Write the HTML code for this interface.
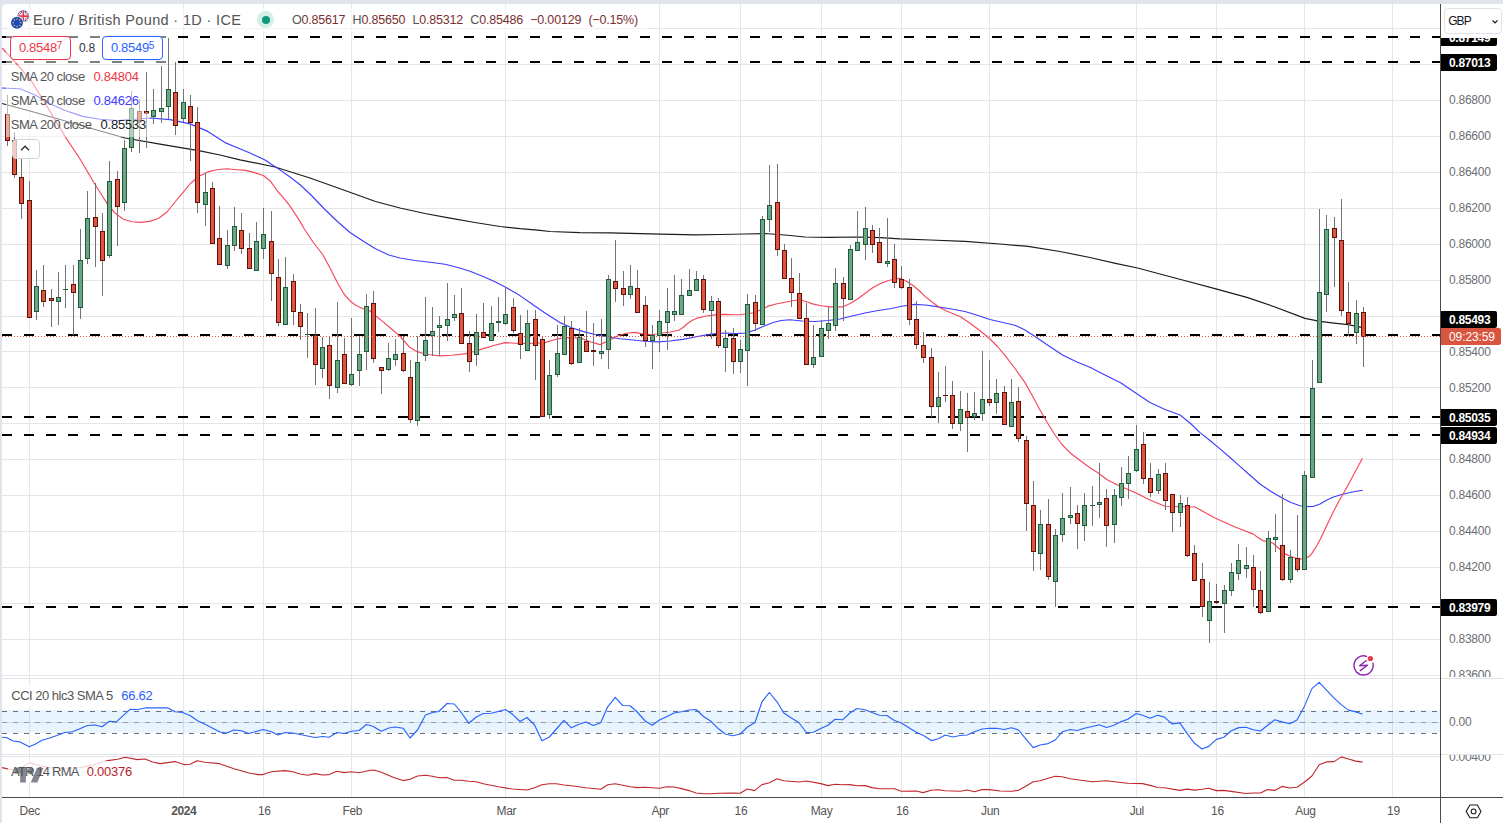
<!DOCTYPE html>
<html><head><meta charset="utf-8"><title>EURGBP chart</title>
<style>
html,body{margin:0;padding:0;background:#fff;}
body{width:1503px;height:823px;position:relative;overflow:hidden;font-family:"Liberation Sans",sans-serif;color:#555;}
.cv{position:absolute;left:0;top:0;}
.topbar{position:absolute;left:0;top:0;width:1503px;height:4px;background:#e0e3eb;}
.leftbar{position:absolute;left:0;top:0;width:2px;height:823px;background:#e0e3eb;}
.t{position:absolute;white-space:nowrap;line-height:1;}
.pl{position:absolute;left:1449px;font-size:12px;line-height:14px;height:14px;color:#6c6e75;letter-spacing:-0.25px;white-space:nowrap;}
.bl{position:absolute;left:1441px;width:56px;height:17px;background:#000;color:#fff;font-weight:bold;font-size:12px;line-height:18.6px;overflow:hidden;border-radius:0 2px 2px 0;box-sizing:border-box;padding-left:8px;letter-spacing:-0.3px;white-space:nowrap;}
.tl{position:absolute;top:804px;font-size:12px;line-height:14px;color:#555;letter-spacing:-0.4px;transform:translateX(-50%);white-space:nowrap;}
.lg{position:absolute;background:rgba(255,255,255,0.5);white-space:nowrap;}
.box{position:absolute;top:36px;height:24px;width:61px;box-sizing:border-box;border:1px solid;border-radius:4px;background:#fff;font-size:13px;line-height:22px;text-align:center;letter-spacing:-0.3px;}
.box sup{font-size:10px;vertical-align:baseline;position:relative;top:-3px;}
</style></head><body>
<svg class="cv" width="1503" height="823" viewBox="0 0 1503 823">
<g shape-rendering="crispEdges" fill="#e6e6e6">
<rect x="29" y="4" width="1" height="793"/>
<rect x="183" y="4" width="1" height="793"/>
<rect x="263" y="4" width="1" height="793"/>
<rect x="351" y="4" width="1" height="793"/>
<rect x="505" y="4" width="1" height="793"/>
<rect x="659" y="4" width="1" height="793"/>
<rect x="740" y="4" width="1" height="793"/>
<rect x="821" y="4" width="1" height="793"/>
<rect x="901" y="4" width="1" height="793"/>
<rect x="989" y="4" width="1" height="793"/>
<rect x="1136" y="4" width="1" height="793"/>
<rect x="1216" y="4" width="1" height="793"/>
<rect x="1304" y="4" width="1" height="793"/>
<rect x="1392" y="4" width="1" height="793"/>
<rect x="2" y="28" width="1438" height="1"/>
<rect x="2" y="64" width="1438" height="1"/>
<rect x="2" y="100" width="1438" height="1"/>
<rect x="2" y="136" width="1438" height="1"/>
<rect x="2" y="172" width="1438" height="1"/>
<rect x="2" y="208" width="1438" height="1"/>
<rect x="2" y="244" width="1438" height="1"/>
<rect x="2" y="280" width="1438" height="1"/>
<rect x="2" y="316" width="1438" height="1"/>
<rect x="2" y="351" width="1438" height="1"/>
<rect x="2" y="387" width="1438" height="1"/>
<rect x="2" y="423" width="1438" height="1"/>
<rect x="2" y="459" width="1438" height="1"/>
<rect x="2" y="495" width="1438" height="1"/>
<rect x="2" y="531" width="1438" height="1"/>
<rect x="2" y="567" width="1438" height="1"/>
<rect x="2" y="603" width="1438" height="1"/>
<rect x="2" y="639" width="1438" height="1"/>
<rect x="2" y="675" width="1438" height="1"/>
<rect x="2" y="756" width="1438" height="1"/><rect x="2" y="722" width="1438" height="1"/>
</g>
<rect x="2" y="710" width="1438" height="23" fill="rgba(33,150,243,0.1)" shape-rendering="crispEdges"/>
<line x1="2" y1="711.5" x2="1440" y2="711.5" stroke="#6d6f78" stroke-width="1" stroke-dasharray="5 6" shape-rendering="crispEdges"/>
<line x1="2" y1="722.5" x2="1440" y2="722.5" stroke="#9a9ca4" stroke-width="1" stroke-dasharray="5 6" shape-rendering="crispEdges"/>
<line x1="2" y1="733.5" x2="1440" y2="733.5" stroke="#6d6f78" stroke-width="1" stroke-dasharray="5 6" shape-rendering="crispEdges"/>
<g shape-rendering="crispEdges" fill="#e0e3eb"><rect x="2" y="678" width="1501" height="1"/><rect x="2" y="754" width="1501" height="1"/></g>
<line x1="2" y1="37" x2="1440" y2="37" stroke="#000" stroke-width="2" stroke-dasharray="10 12" shape-rendering="crispEdges"/>
<line x1="2" y1="62" x2="1440" y2="62" stroke="#000" stroke-width="2" stroke-dasharray="10 12" shape-rendering="crispEdges"/>
<line x1="2" y1="335" x2="1440" y2="335" stroke="#000" stroke-width="2" stroke-dasharray="10 12" shape-rendering="crispEdges"/>
<line x1="2" y1="417" x2="1440" y2="417" stroke="#000" stroke-width="2" stroke-dasharray="10 12" shape-rendering="crispEdges"/>
<line x1="2" y1="435" x2="1440" y2="435" stroke="#000" stroke-width="2" stroke-dasharray="10 12" shape-rendering="crispEdges"/>
<line x1="2" y1="607" x2="1440" y2="607" stroke="#000" stroke-width="2" stroke-dasharray="10 12" shape-rendering="crispEdges"/>
<path d="M2.0 103.5 L30.0 111.0 L60.0 119.5 L90.0 128.0 L125.0 138.0 L160.0 144.2 L200.0 150.8 L220.0 155.0 L240.0 159.8 L275.0 167.0 L310.0 178.0 L345.0 190.5 L375.5 201.5 L400.0 208.0 L425.0 213.5 L450.0 218.2 L475.0 222.5 L500.0 226.5 L520.0 228.7 L537.7 230.2 L550.0 231.5 L580.0 232.6 L610.0 232.8 L650.0 233.8 L695.0 234.8 L720.0 234.5 L745.0 234.0 L765.0 233.5 L785.0 235.0 L805.0 237.0 L830.0 237.3 L857.6 237.0 L880.0 237.7 L900.0 238.9 L930.0 240.0 L965.0 241.4 L1000.0 244.0 L1028.0 246.4 L1060.0 251.5 L1090.0 257.5 L1115.5 263.4 L1137.5 268.0 L1160.0 274.0 L1182.6 280.0 L1215.0 288.7 L1247.7 297.6 L1275.0 307.0 L1305.0 318.4 L1320.0 321.4 L1334.0 323.2 L1348.0 324.7 L1363.0 327.7" fill="none" stroke="#1c1c1c" stroke-width="1.2" stroke-linejoin="round"/>
<path d="M2.0 88.0 L20.0 88.8 L35.0 95.0 L50.0 103.8 L65.0 110.5 L82.6 116.4 L100.0 119.2 L117.6 120.6 L135.0 119.3 L150.0 118.0 L170.0 119.6 L190.0 123.9 L207.8 131.4 L225.0 142.6 L238.0 148.0 L250.0 153.0 L265.0 160.0 L277.8 168.4 L290.0 177.0 L300.4 185.0 L312.0 196.0 L325.4 210.0 L338.0 222.0 L350.4 232.7 L363.0 241.0 L375.5 248.8 L388.8 255.0 L400.0 258.0 L415.0 260.5 L430.0 262.2 L445.0 264.3 L458.0 267.5 L470.0 271.3 L482.0 276.0 L495.0 281.8 L507.0 288.0 L520.0 295.6 L532.0 304.0 L545.0 313.0 L560.0 322.6 L571.0 327.5 L582.7 331.4 L595.0 334.5 L607.8 337.0 L620.0 338.7 L632.8 340.0 L645.0 341.2 L657.8 341.9 L670.0 341.0 L682.8 339.4 L695.0 337.0 L707.9 334.6 L716.0 333.5 L725.4 333.0 L735.0 333.5 L745.5 333.1 L755.0 330.0 L763.0 326.5 L772.5 322.7 L781.0 320.5 L790.0 319.7 L802.0 321.0 L815.0 321.5 L828.0 320.5 L840.0 319.0 L852.0 316.0 L865.0 313.0 L878.0 310.5 L890.0 308.7 L903.0 306.0 L915.0 304.4 L925.0 305.0 L935.0 306.4 L950.0 308.8 L965.0 311.5 L978.0 315.5 L990.0 319.5 L1003.0 322.5 L1015.0 325.2 L1025.0 330.0 L1035.0 336.5 L1049.0 346.0 L1063.0 355.3 L1077.0 362.0 L1090.4 367.5 L1100.0 372.5 L1110.0 377.5 L1121.0 383.0 L1135.0 392.5 L1150.0 402.6 L1165.0 409.5 L1180.0 415.0 L1190.0 423.0 L1200.0 432.6 L1210.0 440.5 L1220.0 448.9 L1230.0 457.5 L1240.0 466.4 L1250.0 475.2 L1260.0 484.0 L1271.0 491.5 L1282.7 498.2 L1291.0 502.5 L1300.0 505.7 L1306.0 506.6 L1312.8 506.5 L1320.0 504.0 L1326.0 500.5 L1332.8 497.2 L1340.0 495.0 L1348.0 493.0 L1355.0 491.5 L1362.8 490.2" fill="none" stroke="#3d3dff" stroke-width="1.15" stroke-linejoin="round"/>
<path d="M2.0 48.0 L11.0 57.5 L22.0 70.0 L32.5 82.6 L48.0 108.0 L65.0 136.4 L80.0 159.0 L95.0 184.5 L100.0 192.3 L107.3 203.9 L114.6 212.7 L123.3 219.2 L132.0 221.7 L140.8 222.4 L149.6 221.4 L158.3 218.5 L167.0 212.0 L175.8 201.0 L183.1 192.3 L190.4 183.5 L199.1 176.2 L207.9 171.9 L216.6 169.7 L226.8 168.7 L237.0 169.7 L245.8 170.4 L254.5 172.6 L263.3 175.5 L270.6 181.3 L277.8 191.5 L283.7 198.1 L289.5 205.4 L295.3 214.1 L300.0 221.4 L304.0 228.5 L313.0 242.0 L323.0 255.0 L330.0 268.0 L338.0 283.8 L344.0 294.0 L350.4 301.3 L356.0 305.5 L363.0 308.8 L370.0 311.0 L376.0 316.0 L382.5 321.4 L391.0 328.5 L400.0 336.4 L405.0 342.0 L410.0 347.6 L415.0 350.5 L420.0 352.6 L430.0 354.8 L440.0 355.9 L452.0 355.2 L465.0 353.9 L474.0 351.5 L482.6 348.9 L494.0 345.5 L505.0 342.6 L515.0 343.2 L525.0 343.4 L535.0 343.2 L545.0 342.6 L555.0 339.5 L565.0 337.6 L574.0 337.8 L582.7 338.9 L591.0 342.0 L600.0 344.6 L607.0 341.5 L617.5 335.9 L626.2 333.3 L635.0 332.4 L641.0 333.6 L649.0 334.8 L656.9 334.0 L661.2 333.2 L670.0 332.0 L678.7 330.2 L683.1 327.5 L687.5 323.5 L691.9 320.5 L696.2 318.4 L705.0 316.2 L716.4 314.6 L725.4 314.4 L733.0 314.7 L740.0 314.7 L748.0 313.5 L755.0 312.7 L761.0 309.5 L767.5 306.4 L776.0 304.0 L785.0 302.2 L793.0 300.7 L800.0 299.7 L806.0 301.5 L812.6 303.9 L821.0 305.7 L830.0 306.9 L842.6 306.9 L850.0 303.5 L857.6 299.0 L865.0 293.5 L872.7 287.7 L880.0 283.7 L887.7 280.7 L894.0 279.2 L900.0 278.4 L906.0 281.0 L912.7 285.2 L919.0 290.5 L925.0 296.4 L932.0 302.0 L940.0 307.7 L950.0 312.5 L960.0 316.5 L969.0 322.5 L977.8 329.0 L984.0 334.0 L990.0 339.0 L997.5 346.5 L1005.0 355.3 L1015.0 368.5 L1025.0 382.6 L1032.5 396.0 L1040.0 410.0 L1047.5 423.0 L1055.0 435.0 L1062.0 444.5 L1070.0 452.7 L1080.0 460.5 L1090.0 467.7 L1099.0 473.5 L1107.6 480.0 L1117.5 485.0 L1127.6 489.3 L1137.6 493.8 L1151.0 500.5 L1165.0 506.3 L1180.0 506.8 L1195.0 507.0 L1205.0 512.5 L1215.0 518.0 L1225.0 522.5 L1235.0 527.0 L1244.0 530.5 L1252.8 533.9 L1258.0 537.5 L1262.8 540.6 L1268.0 541.8 L1272.8 543.0 L1279.0 548.5 L1285.0 553.9 L1291.5 556.8 L1298.0 558.9 L1302.0 559.0 L1305.4 558.4 L1308.5 556.8 L1311.6 553.9 L1316.0 547.0 L1320.4 538.9 L1326.5 526.0 L1333.0 512.6 L1339.0 501.0 L1345.4 490.0 L1354.0 474.0 L1362.4 458.3" fill="none" stroke="#f5475a" stroke-width="1.15" stroke-linejoin="round"/>
<g shape-rendering="crispEdges">
<g fill="#737375"><rect x="7" y="95" width="1" height="51"/><rect x="14" y="132" width="1" height="46"/><rect x="21" y="159" width="1" height="60"/><rect x="29" y="181" width="1" height="137"/><rect x="36" y="270" width="1" height="50"/><rect x="43" y="265" width="1" height="42"/><rect x="51" y="289" width="1" height="38"/><rect x="58" y="272" width="1" height="53"/><rect x="65" y="265" width="1" height="43"/><rect x="73" y="265" width="1" height="70"/><rect x="80" y="229" width="1" height="90"/><rect x="87" y="191" width="1" height="73"/><rect x="95" y="183" width="1" height="84"/><rect x="102" y="213" width="1" height="83"/><rect x="109" y="161" width="1" height="97"/><rect x="117" y="171" width="1" height="75"/><rect x="124" y="140" width="1" height="71"/><rect x="131" y="91" width="1" height="61"/><rect x="139" y="99" width="1" height="54"/><rect x="146" y="72" width="1" height="76"/><rect x="153" y="89" width="1" height="35"/><rect x="161" y="66" width="1" height="57"/><rect x="168" y="38" width="1" height="81"/><rect x="175" y="62" width="1" height="73"/><rect x="183" y="89" width="1" height="33"/><rect x="190" y="95" width="1" height="66"/><rect x="197" y="107" width="1" height="106"/><rect x="205" y="173" width="1" height="53"/><rect x="212" y="182" width="1" height="62"/><rect x="219" y="206" width="1" height="59"/><rect x="227" y="230" width="1" height="39"/><rect x="234" y="207" width="1" height="44"/><rect x="241" y="213" width="1" height="41"/><rect x="249" y="233" width="1" height="36"/><rect x="256" y="222" width="1" height="49"/><rect x="263" y="208" width="1" height="51"/><rect x="271" y="211" width="1" height="90"/><rect x="278" y="259" width="1" height="67"/><rect x="285" y="257" width="1" height="68"/><rect x="293" y="274" width="1" height="51"/><rect x="300" y="304" width="1" height="36"/><rect x="307" y="313" width="1" height="45"/><rect x="315" y="308" width="1" height="77"/><rect x="322" y="337" width="1" height="41"/><rect x="329" y="336" width="1" height="63"/><rect x="337" y="302" width="1" height="91"/><rect x="344" y="338" width="1" height="46"/><rect x="351" y="318" width="1" height="68"/><rect x="359" y="336" width="1" height="50"/><rect x="366" y="294" width="1" height="76"/><rect x="373" y="291" width="1" height="72"/><rect x="381" y="367" width="1" height="27"/><rect x="388" y="343" width="1" height="28"/><rect x="395" y="339" width="1" height="27"/><rect x="403" y="336" width="1" height="36"/><rect x="410" y="360" width="1" height="63"/><rect x="417" y="336" width="1" height="90"/><rect x="425" y="297" width="1" height="64"/><rect x="432" y="307" width="1" height="49"/><rect x="439" y="316" width="1" height="40"/><rect x="447" y="283" width="1" height="58"/><rect x="454" y="295" width="1" height="26"/><rect x="461" y="288" width="1" height="56"/><rect x="469" y="331" width="1" height="41"/><rect x="476" y="314" width="1" height="52"/><rect x="483" y="303" width="1" height="35"/><rect x="491" y="306" width="1" height="35"/><rect x="498" y="297" width="1" height="35"/><rect x="505" y="287" width="1" height="38"/><rect x="513" y="298" width="1" height="35"/><rect x="520" y="315" width="1" height="44"/><rect x="527" y="310" width="1" height="41"/><rect x="535" y="310" width="1" height="70"/><rect x="542" y="336" width="1" height="81"/><rect x="549" y="360" width="1" height="59"/><rect x="557" y="325" width="1" height="52"/><rect x="564" y="316" width="1" height="39"/><rect x="571" y="321" width="1" height="44"/><rect x="579" y="328" width="1" height="35"/><rect x="586" y="311" width="1" height="41"/><rect x="593" y="323" width="1" height="43"/><rect x="601" y="319" width="1" height="40"/><rect x="608" y="275" width="1" height="94"/><rect x="615" y="240" width="1" height="62"/><rect x="623" y="271" width="1" height="35"/><rect x="630" y="265" width="1" height="34"/><rect x="637" y="270" width="1" height="43"/><rect x="645" y="296" width="1" height="51"/><rect x="652" y="325" width="1" height="44"/><rect x="659" y="310" width="1" height="42"/><rect x="667" y="288" width="1" height="62"/><rect x="674" y="275" width="1" height="46"/><rect x="681" y="279" width="1" height="36"/><rect x="689" y="269" width="1" height="27"/><rect x="696" y="271" width="1" height="20"/><rect x="703" y="275" width="1" height="38"/><rect x="711" y="296" width="1" height="43"/><rect x="718" y="298" width="1" height="50"/><rect x="725" y="330" width="1" height="42"/><rect x="733" y="328" width="1" height="46"/><rect x="740" y="340" width="1" height="33"/><rect x="747" y="294" width="1" height="92"/><rect x="755" y="295" width="1" height="36"/><rect x="762" y="216" width="1" height="109"/><rect x="769" y="165" width="1" height="67"/><rect x="777" y="164" width="1" height="92"/><rect x="784" y="244" width="1" height="35"/><rect x="791" y="258" width="1" height="49"/><rect x="799" y="273" width="1" height="46"/><rect x="806" y="303" width="1" height="62"/><rect x="813" y="325" width="1" height="43"/><rect x="821" y="320" width="1" height="37"/><rect x="828" y="307" width="1" height="32"/><rect x="835" y="268" width="1" height="63"/><rect x="843" y="277" width="1" height="44"/><rect x="850" y="245" width="1" height="55"/><rect x="857" y="211" width="1" height="40"/><rect x="865" y="207" width="1" height="53"/><rect x="872" y="225" width="1" height="28"/><rect x="879" y="228" width="1" height="35"/><rect x="887" y="218" width="1" height="49"/><rect x="894" y="244" width="1" height="44"/><rect x="901" y="266" width="1" height="23"/><rect x="909" y="279" width="1" height="46"/><rect x="916" y="301" width="1" height="48"/><rect x="923" y="332" width="1" height="31"/><rect x="931" y="348" width="1" height="69"/><rect x="938" y="372" width="1" height="51"/><rect x="945" y="366" width="1" height="36"/><rect x="952" y="381" width="1" height="48"/><rect x="960" y="391" width="1" height="40"/><rect x="967" y="393" width="1" height="59"/><rect x="974" y="392" width="1" height="28"/><rect x="982" y="351" width="1" height="70"/><rect x="989" y="360" width="1" height="46"/><rect x="996" y="379" width="1" height="35"/><rect x="1004" y="386" width="1" height="39"/><rect x="1011" y="379" width="1" height="48"/><rect x="1018" y="387" width="1" height="55"/><rect x="1026" y="436" width="1" height="95"/><rect x="1033" y="481" width="1" height="90"/><rect x="1040" y="510" width="1" height="60"/><rect x="1048" y="499" width="1" height="81"/><rect x="1055" y="529" width="1" height="78"/><rect x="1062" y="493" width="1" height="49"/><rect x="1070" y="487" width="1" height="37"/><rect x="1077" y="505" width="1" height="44"/><rect x="1084" y="493" width="1" height="48"/><rect x="1092" y="486" width="1" height="40"/><rect x="1099" y="463" width="1" height="55"/><rect x="1106" y="489" width="1" height="58"/><rect x="1114" y="489" width="1" height="54"/><rect x="1121" y="467" width="1" height="39"/><rect x="1128" y="456" width="1" height="43"/><rect x="1136" y="425" width="1" height="47"/><rect x="1143" y="432" width="1" height="52"/><rect x="1150" y="463" width="1" height="34"/><rect x="1158" y="469" width="1" height="25"/><rect x="1165" y="463" width="1" height="47"/><rect x="1172" y="494" width="1" height="38"/><rect x="1180" y="495" width="1" height="32"/><rect x="1187" y="497" width="1" height="60"/><rect x="1194" y="545" width="1" height="36"/><rect x="1202" y="563" width="1" height="54"/><rect x="1209" y="582" width="1" height="61"/><rect x="1216" y="584" width="1" height="20"/><rect x="1224" y="585" width="1" height="48"/><rect x="1231" y="563" width="1" height="33"/><rect x="1238" y="544" width="1" height="36"/><rect x="1246" y="547" width="1" height="31"/><rect x="1253" y="555" width="1" height="52"/><rect x="1260" y="571" width="1" height="43"/><rect x="1268" y="531" width="1" height="81"/><rect x="1275" y="514" width="1" height="38"/><rect x="1282" y="494" width="1" height="87"/><rect x="1290" y="550" width="1" height="33"/><rect x="1297" y="515" width="1" height="57"/><rect x="1304" y="471" width="1" height="99"/><rect x="1312" y="360" width="1" height="118"/><rect x="1319" y="209" width="1" height="174"/><rect x="1326" y="215" width="1" height="97"/><rect x="1334" y="217" width="1" height="70"/><rect x="1341" y="199" width="1" height="117"/><rect x="1348" y="282" width="1" height="54"/><rect x="1356" y="300" width="1" height="44"/><rect x="1363" y="307" width="1" height="60"/></g>
<rect x="5" y="114" width="5" height="27" fill="#5c140a"/><rect x="6" y="115" width="3" height="25" fill="#e0533f"/><rect x="12" y="140" width="5" height="35" fill="#5c140a"/><rect x="13" y="141" width="3" height="33" fill="#e0533f"/><rect x="19" y="177" width="5" height="27" fill="#5c140a"/><rect x="20" y="178" width="3" height="25" fill="#e0533f"/><rect x="27" y="200" width="5" height="118" fill="#5c140a"/><rect x="28" y="201" width="3" height="116" fill="#e0533f"/><rect x="34" y="286" width="5" height="26" fill="#1f5c3a"/><rect x="35" y="287" width="3" height="24" fill="#6ba583"/><rect x="41" y="290" width="5" height="12" fill="#5c140a"/><rect x="42" y="291" width="3" height="10" fill="#e0533f"/><rect x="49" y="298" width="5" height="3" fill="#5c140a"/><rect x="50" y="299" width="3" height="1" fill="#e0533f"/><rect x="56" y="297" width="5" height="5" fill="#1f5c3a"/><rect x="57" y="298" width="3" height="3" fill="#6ba583"/><rect x="63" y="289" width="5" height="1" fill="#1f5c3a"/><rect x="71" y="284" width="5" height="9" fill="#5c140a"/><rect x="72" y="285" width="3" height="7" fill="#e0533f"/><rect x="78" y="260" width="5" height="48" fill="#1f5c3a"/><rect x="79" y="261" width="3" height="46" fill="#6ba583"/><rect x="85" y="218" width="5" height="41" fill="#1f5c3a"/><rect x="86" y="219" width="3" height="39" fill="#6ba583"/><rect x="93" y="217" width="5" height="10" fill="#5c140a"/><rect x="94" y="218" width="3" height="8" fill="#e0533f"/><rect x="100" y="231" width="5" height="30" fill="#5c140a"/><rect x="101" y="232" width="3" height="28" fill="#e0533f"/><rect x="107" y="181" width="5" height="75" fill="#1f5c3a"/><rect x="108" y="182" width="3" height="73" fill="#6ba583"/><rect x="115" y="179" width="5" height="28" fill="#5c140a"/><rect x="116" y="180" width="3" height="26" fill="#e0533f"/><rect x="122" y="148" width="5" height="55" fill="#1f5c3a"/><rect x="123" y="149" width="3" height="53" fill="#6ba583"/><rect x="129" y="108" width="5" height="40" fill="#1f5c3a"/><rect x="130" y="109" width="3" height="38" fill="#6ba583"/><rect x="137" y="111" width="5" height="10" fill="#5c140a"/><rect x="138" y="112" width="3" height="8" fill="#e0533f"/><rect x="144" y="111" width="5" height="3" fill="#5c140a"/><rect x="145" y="112" width="3" height="1" fill="#e0533f"/><rect x="151" y="110" width="5" height="7" fill="#1f5c3a"/><rect x="152" y="111" width="3" height="5" fill="#6ba583"/><rect x="159" y="108" width="5" height="4" fill="#1f5c3a"/><rect x="160" y="109" width="3" height="2" fill="#6ba583"/><rect x="166" y="89" width="5" height="18" fill="#1f5c3a"/><rect x="167" y="90" width="3" height="16" fill="#6ba583"/><rect x="173" y="92" width="5" height="34" fill="#5c140a"/><rect x="174" y="93" width="3" height="32" fill="#e0533f"/><rect x="181" y="102" width="5" height="17" fill="#1f5c3a"/><rect x="182" y="103" width="3" height="15" fill="#6ba583"/><rect x="188" y="106" width="5" height="17" fill="#5c140a"/><rect x="189" y="107" width="3" height="15" fill="#e0533f"/><rect x="195" y="122" width="5" height="81" fill="#5c140a"/><rect x="196" y="123" width="3" height="79" fill="#e0533f"/><rect x="203" y="192" width="5" height="13" fill="#1f5c3a"/><rect x="204" y="193" width="3" height="11" fill="#6ba583"/><rect x="210" y="188" width="5" height="56" fill="#5c140a"/><rect x="211" y="189" width="3" height="54" fill="#e0533f"/><rect x="217" y="238" width="5" height="27" fill="#5c140a"/><rect x="218" y="239" width="3" height="25" fill="#e0533f"/><rect x="225" y="245" width="5" height="21" fill="#1f5c3a"/><rect x="226" y="246" width="3" height="19" fill="#6ba583"/><rect x="232" y="226" width="5" height="20" fill="#1f5c3a"/><rect x="233" y="227" width="3" height="18" fill="#6ba583"/><rect x="239" y="230" width="5" height="19" fill="#5c140a"/><rect x="240" y="231" width="3" height="17" fill="#e0533f"/><rect x="247" y="248" width="5" height="21" fill="#5c140a"/><rect x="248" y="249" width="3" height="19" fill="#e0533f"/><rect x="254" y="241" width="5" height="30" fill="#1f5c3a"/><rect x="255" y="242" width="3" height="28" fill="#6ba583"/><rect x="261" y="234" width="5" height="15" fill="#1f5c3a"/><rect x="262" y="235" width="3" height="13" fill="#6ba583"/><rect x="269" y="241" width="5" height="33" fill="#5c140a"/><rect x="270" y="242" width="3" height="31" fill="#e0533f"/><rect x="276" y="277" width="5" height="46" fill="#5c140a"/><rect x="277" y="278" width="3" height="44" fill="#e0533f"/><rect x="283" y="287" width="5" height="38" fill="#1f5c3a"/><rect x="284" y="288" width="3" height="36" fill="#6ba583"/><rect x="291" y="281" width="5" height="31" fill="#5c140a"/><rect x="292" y="282" width="3" height="29" fill="#e0533f"/><rect x="298" y="312" width="5" height="15" fill="#5c140a"/><rect x="299" y="313" width="3" height="13" fill="#e0533f"/><rect x="305" y="334" width="5" height="1" fill="#1f5c3a"/><rect x="313" y="335" width="5" height="30" fill="#5c140a"/><rect x="314" y="336" width="3" height="28" fill="#e0533f"/><rect x="320" y="347" width="5" height="22" fill="#1f5c3a"/><rect x="321" y="348" width="3" height="20" fill="#6ba583"/><rect x="327" y="345" width="5" height="41" fill="#5c140a"/><rect x="328" y="346" width="3" height="39" fill="#e0533f"/><rect x="335" y="360" width="5" height="28" fill="#1f5c3a"/><rect x="336" y="361" width="3" height="26" fill="#6ba583"/><rect x="342" y="354" width="5" height="30" fill="#5c140a"/><rect x="343" y="355" width="3" height="28" fill="#e0533f"/><rect x="349" y="374" width="5" height="11" fill="#1f5c3a"/><rect x="350" y="375" width="3" height="9" fill="#6ba583"/><rect x="357" y="354" width="5" height="17" fill="#1f5c3a"/><rect x="358" y="355" width="3" height="15" fill="#6ba583"/><rect x="364" y="306" width="5" height="46" fill="#1f5c3a"/><rect x="365" y="307" width="3" height="44" fill="#6ba583"/><rect x="371" y="303" width="5" height="56" fill="#5c140a"/><rect x="372" y="304" width="3" height="54" fill="#e0533f"/><rect x="379" y="367" width="5" height="4" fill="#5c140a"/><rect x="380" y="368" width="3" height="2" fill="#e0533f"/><rect x="386" y="358" width="5" height="12" fill="#1f5c3a"/><rect x="387" y="359" width="3" height="10" fill="#6ba583"/><rect x="393" y="354" width="5" height="6" fill="#1f5c3a"/><rect x="394" y="355" width="3" height="4" fill="#6ba583"/><rect x="401" y="353" width="5" height="18" fill="#5c140a"/><rect x="402" y="354" width="3" height="16" fill="#e0533f"/><rect x="408" y="377" width="5" height="43" fill="#5c140a"/><rect x="409" y="378" width="3" height="41" fill="#e0533f"/><rect x="415" y="362" width="5" height="59" fill="#1f5c3a"/><rect x="416" y="363" width="3" height="57" fill="#6ba583"/><rect x="423" y="340" width="5" height="16" fill="#1f5c3a"/><rect x="424" y="341" width="3" height="14" fill="#6ba583"/><rect x="430" y="331" width="5" height="5" fill="#1f5c3a"/><rect x="431" y="332" width="3" height="3" fill="#6ba583"/><rect x="437" y="325" width="5" height="3" fill="#1f5c3a"/><rect x="438" y="326" width="3" height="1" fill="#6ba583"/><rect x="445" y="319" width="5" height="7" fill="#1f5c3a"/><rect x="446" y="320" width="3" height="5" fill="#6ba583"/><rect x="452" y="314" width="5" height="4" fill="#1f5c3a"/><rect x="453" y="315" width="3" height="2" fill="#6ba583"/><rect x="459" y="313" width="5" height="31" fill="#5c140a"/><rect x="460" y="314" width="3" height="29" fill="#e0533f"/><rect x="467" y="343" width="5" height="19" fill="#5c140a"/><rect x="468" y="344" width="3" height="17" fill="#e0533f"/><rect x="474" y="332" width="5" height="23" fill="#1f5c3a"/><rect x="475" y="333" width="3" height="21" fill="#6ba583"/><rect x="481" y="332" width="5" height="6" fill="#5c140a"/><rect x="482" y="333" width="3" height="4" fill="#e0533f"/><rect x="489" y="323" width="5" height="18" fill="#1f5c3a"/><rect x="490" y="324" width="3" height="16" fill="#6ba583"/><rect x="496" y="321" width="5" height="2" fill="#1f5c3a"/><rect x="503" y="314" width="5" height="10" fill="#1f5c3a"/><rect x="504" y="315" width="3" height="8" fill="#6ba583"/><rect x="511" y="307" width="5" height="24" fill="#5c140a"/><rect x="512" y="308" width="3" height="22" fill="#e0533f"/><rect x="518" y="333" width="5" height="12" fill="#5c140a"/><rect x="519" y="334" width="3" height="10" fill="#e0533f"/><rect x="525" y="323" width="5" height="28" fill="#1f5c3a"/><rect x="526" y="324" width="3" height="26" fill="#6ba583"/><rect x="533" y="319" width="5" height="27" fill="#5c140a"/><rect x="534" y="320" width="3" height="25" fill="#e0533f"/><rect x="540" y="339" width="5" height="78" fill="#5c140a"/><rect x="541" y="340" width="3" height="76" fill="#e0533f"/><rect x="547" y="375" width="5" height="40" fill="#1f5c3a"/><rect x="548" y="376" width="3" height="38" fill="#6ba583"/><rect x="555" y="353" width="5" height="22" fill="#1f5c3a"/><rect x="556" y="354" width="3" height="20" fill="#6ba583"/><rect x="562" y="326" width="5" height="29" fill="#1f5c3a"/><rect x="563" y="327" width="3" height="27" fill="#6ba583"/><rect x="569" y="328" width="5" height="36" fill="#5c140a"/><rect x="570" y="329" width="3" height="34" fill="#e0533f"/><rect x="577" y="337" width="5" height="26" fill="#1f5c3a"/><rect x="578" y="338" width="3" height="24" fill="#6ba583"/><rect x="584" y="341" width="5" height="11" fill="#5c140a"/><rect x="585" y="342" width="3" height="9" fill="#e0533f"/><rect x="591" y="350" width="5" height="2" fill="#5c140a"/><rect x="599" y="351" width="5" height="3" fill="#1f5c3a"/><rect x="600" y="352" width="3" height="1" fill="#6ba583"/><rect x="606" y="279" width="5" height="71" fill="#1f5c3a"/><rect x="607" y="280" width="3" height="69" fill="#6ba583"/><rect x="613" y="281" width="5" height="8" fill="#5c140a"/><rect x="614" y="282" width="3" height="6" fill="#e0533f"/><rect x="621" y="288" width="5" height="7" fill="#5c140a"/><rect x="622" y="289" width="3" height="5" fill="#e0533f"/><rect x="628" y="286" width="5" height="9" fill="#1f5c3a"/><rect x="629" y="287" width="3" height="7" fill="#6ba583"/><rect x="635" y="288" width="5" height="25" fill="#5c140a"/><rect x="636" y="289" width="3" height="23" fill="#e0533f"/><rect x="643" y="305" width="5" height="36" fill="#5c140a"/><rect x="644" y="306" width="3" height="34" fill="#e0533f"/><rect x="650" y="335" width="5" height="6" fill="#1f5c3a"/><rect x="651" y="336" width="3" height="4" fill="#6ba583"/><rect x="657" y="321" width="5" height="15" fill="#1f5c3a"/><rect x="658" y="322" width="3" height="13" fill="#6ba583"/><rect x="665" y="311" width="5" height="12" fill="#1f5c3a"/><rect x="666" y="312" width="3" height="10" fill="#6ba583"/><rect x="672" y="311" width="5" height="4" fill="#1f5c3a"/><rect x="673" y="312" width="3" height="2" fill="#6ba583"/><rect x="679" y="295" width="5" height="20" fill="#1f5c3a"/><rect x="680" y="296" width="3" height="18" fill="#6ba583"/><rect x="687" y="290" width="5" height="6" fill="#1f5c3a"/><rect x="688" y="291" width="3" height="4" fill="#6ba583"/><rect x="694" y="279" width="5" height="12" fill="#1f5c3a"/><rect x="695" y="280" width="3" height="10" fill="#6ba583"/><rect x="701" y="279" width="5" height="31" fill="#5c140a"/><rect x="702" y="280" width="3" height="29" fill="#e0533f"/><rect x="709" y="301" width="5" height="10" fill="#1f5c3a"/><rect x="710" y="302" width="3" height="8" fill="#6ba583"/><rect x="716" y="301" width="5" height="45" fill="#5c140a"/><rect x="717" y="302" width="3" height="43" fill="#e0533f"/><rect x="723" y="338" width="5" height="10" fill="#1f5c3a"/><rect x="724" y="339" width="3" height="8" fill="#6ba583"/><rect x="731" y="338" width="5" height="24" fill="#5c140a"/><rect x="732" y="339" width="3" height="22" fill="#e0533f"/><rect x="738" y="349" width="5" height="13" fill="#1f5c3a"/><rect x="739" y="350" width="3" height="11" fill="#6ba583"/><rect x="745" y="304" width="5" height="47" fill="#1f5c3a"/><rect x="746" y="305" width="3" height="45" fill="#6ba583"/><rect x="753" y="302" width="5" height="22" fill="#5c140a"/><rect x="754" y="303" width="3" height="20" fill="#e0533f"/><rect x="760" y="219" width="5" height="106" fill="#1f5c3a"/><rect x="761" y="220" width="3" height="104" fill="#6ba583"/><rect x="767" y="205" width="5" height="15" fill="#1f5c3a"/><rect x="768" y="206" width="3" height="13" fill="#6ba583"/><rect x="775" y="202" width="5" height="48" fill="#5c140a"/><rect x="776" y="203" width="3" height="46" fill="#e0533f"/><rect x="782" y="250" width="5" height="29" fill="#5c140a"/><rect x="783" y="251" width="3" height="27" fill="#e0533f"/><rect x="789" y="278" width="5" height="15" fill="#5c140a"/><rect x="790" y="279" width="3" height="13" fill="#e0533f"/><rect x="797" y="293" width="5" height="26" fill="#5c140a"/><rect x="798" y="294" width="3" height="24" fill="#e0533f"/><rect x="804" y="318" width="5" height="47" fill="#5c140a"/><rect x="805" y="319" width="3" height="45" fill="#e0533f"/><rect x="811" y="357" width="5" height="8" fill="#1f5c3a"/><rect x="812" y="358" width="3" height="6" fill="#6ba583"/><rect x="819" y="328" width="5" height="29" fill="#1f5c3a"/><rect x="820" y="329" width="3" height="27" fill="#6ba583"/><rect x="826" y="323" width="5" height="8" fill="#1f5c3a"/><rect x="827" y="324" width="3" height="6" fill="#6ba583"/><rect x="833" y="283" width="5" height="43" fill="#1f5c3a"/><rect x="834" y="284" width="3" height="41" fill="#6ba583"/><rect x="841" y="283" width="5" height="16" fill="#5c140a"/><rect x="842" y="284" width="3" height="14" fill="#e0533f"/><rect x="848" y="249" width="5" height="51" fill="#1f5c3a"/><rect x="849" y="250" width="3" height="49" fill="#6ba583"/><rect x="855" y="242" width="5" height="9" fill="#1f5c3a"/><rect x="856" y="243" width="3" height="7" fill="#6ba583"/><rect x="863" y="228" width="5" height="17" fill="#1f5c3a"/><rect x="864" y="229" width="3" height="15" fill="#6ba583"/><rect x="870" y="230" width="5" height="15" fill="#5c140a"/><rect x="871" y="231" width="3" height="13" fill="#e0533f"/><rect x="877" y="242" width="5" height="21" fill="#5c140a"/><rect x="878" y="243" width="3" height="19" fill="#e0533f"/><rect x="885" y="261" width="5" height="3" fill="#1f5c3a"/><rect x="886" y="262" width="3" height="1" fill="#6ba583"/><rect x="892" y="259" width="5" height="24" fill="#5c140a"/><rect x="893" y="260" width="3" height="22" fill="#e0533f"/><rect x="899" y="279" width="5" height="9" fill="#5c140a"/><rect x="900" y="280" width="3" height="7" fill="#e0533f"/><rect x="907" y="287" width="5" height="33" fill="#5c140a"/><rect x="908" y="288" width="3" height="31" fill="#e0533f"/><rect x="914" y="319" width="5" height="26" fill="#5c140a"/><rect x="915" y="320" width="3" height="24" fill="#e0533f"/><rect x="921" y="345" width="5" height="13" fill="#5c140a"/><rect x="922" y="346" width="3" height="11" fill="#e0533f"/><rect x="929" y="357" width="5" height="50" fill="#5c140a"/><rect x="930" y="358" width="3" height="48" fill="#e0533f"/><rect x="936" y="397" width="5" height="10" fill="#1f5c3a"/><rect x="937" y="398" width="3" height="8" fill="#6ba583"/><rect x="943" y="395" width="5" height="1" fill="#5c140a"/><rect x="950" y="395" width="5" height="29" fill="#5c140a"/><rect x="951" y="396" width="3" height="27" fill="#e0533f"/><rect x="958" y="409" width="5" height="15" fill="#1f5c3a"/><rect x="959" y="410" width="3" height="13" fill="#6ba583"/><rect x="965" y="411" width="5" height="7" fill="#5c140a"/><rect x="966" y="412" width="3" height="5" fill="#e0533f"/><rect x="972" y="413" width="5" height="4" fill="#1f5c3a"/><rect x="973" y="414" width="3" height="2" fill="#6ba583"/><rect x="980" y="399" width="5" height="15" fill="#1f5c3a"/><rect x="981" y="400" width="3" height="13" fill="#6ba583"/><rect x="987" y="399" width="5" height="4" fill="#5c140a"/><rect x="988" y="400" width="3" height="2" fill="#e0533f"/><rect x="994" y="393" width="5" height="10" fill="#1f5c3a"/><rect x="995" y="394" width="3" height="8" fill="#6ba583"/><rect x="1002" y="392" width="5" height="33" fill="#5c140a"/><rect x="1003" y="393" width="3" height="31" fill="#e0533f"/><rect x="1009" y="402" width="5" height="25" fill="#1f5c3a"/><rect x="1010" y="403" width="3" height="23" fill="#6ba583"/><rect x="1016" y="401" width="5" height="38" fill="#5c140a"/><rect x="1017" y="402" width="3" height="36" fill="#e0533f"/><rect x="1024" y="440" width="5" height="64" fill="#5c140a"/><rect x="1025" y="441" width="3" height="62" fill="#e0533f"/><rect x="1031" y="505" width="5" height="47" fill="#5c140a"/><rect x="1032" y="506" width="3" height="45" fill="#e0533f"/><rect x="1038" y="524" width="5" height="30" fill="#1f5c3a"/><rect x="1039" y="525" width="3" height="28" fill="#6ba583"/><rect x="1046" y="524" width="5" height="53" fill="#5c140a"/><rect x="1047" y="525" width="3" height="51" fill="#e0533f"/><rect x="1053" y="535" width="5" height="47" fill="#1f5c3a"/><rect x="1054" y="536" width="3" height="45" fill="#6ba583"/><rect x="1060" y="518" width="5" height="17" fill="#1f5c3a"/><rect x="1061" y="519" width="3" height="15" fill="#6ba583"/><rect x="1068" y="515" width="5" height="3" fill="#1f5c3a"/><rect x="1069" y="516" width="3" height="1" fill="#6ba583"/><rect x="1075" y="513" width="5" height="11" fill="#5c140a"/><rect x="1076" y="514" width="3" height="9" fill="#e0533f"/><rect x="1082" y="505" width="5" height="21" fill="#1f5c3a"/><rect x="1083" y="506" width="3" height="19" fill="#6ba583"/><rect x="1090" y="505" width="5" height="1" fill="#1f5c3a"/><rect x="1097" y="502" width="5" height="3" fill="#1f5c3a"/><rect x="1098" y="503" width="3" height="1" fill="#6ba583"/><rect x="1104" y="498" width="5" height="28" fill="#5c140a"/><rect x="1105" y="499" width="3" height="26" fill="#e0533f"/><rect x="1112" y="495" width="5" height="30" fill="#1f5c3a"/><rect x="1113" y="496" width="3" height="28" fill="#6ba583"/><rect x="1119" y="483" width="5" height="15" fill="#1f5c3a"/><rect x="1120" y="484" width="3" height="13" fill="#6ba583"/><rect x="1126" y="473" width="5" height="11" fill="#1f5c3a"/><rect x="1127" y="474" width="3" height="9" fill="#6ba583"/><rect x="1134" y="449" width="5" height="22" fill="#1f5c3a"/><rect x="1135" y="450" width="3" height="20" fill="#6ba583"/><rect x="1141" y="444" width="5" height="35" fill="#5c140a"/><rect x="1142" y="445" width="3" height="33" fill="#e0533f"/><rect x="1148" y="478" width="5" height="15" fill="#5c140a"/><rect x="1149" y="479" width="3" height="13" fill="#e0533f"/><rect x="1156" y="474" width="5" height="17" fill="#1f5c3a"/><rect x="1157" y="475" width="3" height="15" fill="#6ba583"/><rect x="1163" y="473" width="5" height="28" fill="#5c140a"/><rect x="1164" y="474" width="3" height="26" fill="#e0533f"/><rect x="1170" y="494" width="5" height="19" fill="#5c140a"/><rect x="1171" y="495" width="3" height="17" fill="#e0533f"/><rect x="1178" y="503" width="5" height="10" fill="#1f5c3a"/><rect x="1179" y="504" width="3" height="8" fill="#6ba583"/><rect x="1185" y="505" width="5" height="51" fill="#5c140a"/><rect x="1186" y="506" width="3" height="49" fill="#e0533f"/><rect x="1192" y="553" width="5" height="28" fill="#5c140a"/><rect x="1193" y="554" width="3" height="26" fill="#e0533f"/><rect x="1200" y="579" width="5" height="28" fill="#5c140a"/><rect x="1201" y="580" width="3" height="26" fill="#e0533f"/><rect x="1207" y="601" width="5" height="20" fill="#1f5c3a"/><rect x="1208" y="602" width="3" height="18" fill="#6ba583"/><rect x="1214" y="601" width="5" height="2" fill="#5c140a"/><rect x="1222" y="590" width="5" height="14" fill="#1f5c3a"/><rect x="1223" y="591" width="3" height="12" fill="#6ba583"/><rect x="1229" y="572" width="5" height="19" fill="#1f5c3a"/><rect x="1230" y="573" width="3" height="17" fill="#6ba583"/><rect x="1236" y="560" width="5" height="14" fill="#1f5c3a"/><rect x="1237" y="561" width="3" height="12" fill="#6ba583"/><rect x="1244" y="565" width="5" height="4" fill="#1f5c3a"/><rect x="1245" y="566" width="3" height="2" fill="#6ba583"/><rect x="1251" y="567" width="5" height="23" fill="#5c140a"/><rect x="1252" y="568" width="3" height="21" fill="#e0533f"/><rect x="1258" y="590" width="5" height="23" fill="#5c140a"/><rect x="1259" y="591" width="3" height="21" fill="#e0533f"/><rect x="1266" y="538" width="5" height="74" fill="#1f5c3a"/><rect x="1267" y="539" width="3" height="72" fill="#6ba583"/><rect x="1273" y="537" width="5" height="3" fill="#1f5c3a"/><rect x="1274" y="538" width="3" height="1" fill="#6ba583"/><rect x="1280" y="545" width="5" height="35" fill="#5c140a"/><rect x="1281" y="546" width="3" height="33" fill="#e0533f"/><rect x="1288" y="557" width="5" height="23" fill="#1f5c3a"/><rect x="1289" y="558" width="3" height="21" fill="#6ba583"/><rect x="1295" y="558" width="5" height="12" fill="#5c140a"/><rect x="1296" y="559" width="3" height="10" fill="#e0533f"/><rect x="1302" y="475" width="5" height="95" fill="#1f5c3a"/><rect x="1303" y="476" width="3" height="93" fill="#6ba583"/><rect x="1310" y="388" width="5" height="90" fill="#1f5c3a"/><rect x="1311" y="389" width="3" height="88" fill="#6ba583"/><rect x="1317" y="292" width="5" height="91" fill="#1f5c3a"/><rect x="1318" y="293" width="3" height="89" fill="#6ba583"/><rect x="1324" y="229" width="5" height="66" fill="#1f5c3a"/><rect x="1325" y="230" width="3" height="64" fill="#6ba583"/><rect x="1332" y="228" width="5" height="10" fill="#5c140a"/><rect x="1333" y="229" width="3" height="8" fill="#e0533f"/><rect x="1339" y="240" width="5" height="71" fill="#5c140a"/><rect x="1340" y="241" width="3" height="69" fill="#e0533f"/><rect x="1346" y="312" width="5" height="12" fill="#5c140a"/><rect x="1347" y="313" width="3" height="10" fill="#e0533f"/><rect x="1354" y="313" width="5" height="20" fill="#1f5c3a"/><rect x="1355" y="314" width="3" height="18" fill="#6ba583"/><rect x="1361" y="312" width="5" height="25" fill="#5c140a"/><rect x="1362" y="313" width="3" height="23" fill="#e0533f"/>
</g>
<line x1="2" y1="336.5" x2="1440" y2="336.5" stroke="#e0533f" stroke-width="1" stroke-dasharray="1 2" shape-rendering="crispEdges"/>
<path d="M2.0 737.3 L6.5 737.5 L13.0 741.0 L20.0 741.9 L29.3 746.8 L35.0 744.3 L42.5 740.0 L50.0 738.0 L65.0 732.5 L72.5 731.8 L87.6 725.5 L95.0 725.0 L102.0 726.8 L109.3 721.3 L116.3 721.8 L130.0 709.3 L137.6 709.5 L146.4 707.8 L167.6 707.8 L175.0 711.8 L182.6 712.5 L190.0 715.5 L197.6 720.8 L205.0 724.3 L220.0 732.0 L226.4 733.0 L234.0 730.0 L241.4 730.8 L249.0 733.5 L263.0 729.5 L271.5 731.8 L278.0 735.0 L285.0 732.5 L292.7 733.0 L300.0 734.5 L315.0 737.5 L322.7 736.5 L329.0 737.3 L337.0 732.5 L344.0 733.5 L351.5 731.3 L359.0 730.5 L366.5 724.5 L372.8 726.3 L381.3 731.3 L388.8 728.0 L395.0 727.0 L403.3 728.3 L410.0 738.0 L417.5 730.0 L425.5 715.0 L432.5 712.5 L438.8 711.5 L447.0 703.5 L454.3 704.0 L461.3 712.5 L468.8 723.3 L476.3 717.0 L483.3 713.5 L491.3 713.3 L498.3 711.5 L505.4 709.5 L512.6 714.3 L520.0 721.5 L527.0 717.5 L534.6 725.0 L541.9 740.8 L549.4 737.0 L556.4 729.0 L563.9 720.3 L571.4 727.8 L578.9 724.3 L585.9 722.0 L593.4 725.5 L600.7 722.8 L607.7 706.8 L615.2 697.3 L622.7 705.5 L630.2 705.8 L637.2 712.0 L645.2 721.0 L652.2 725.3 L659.5 720.0 L667.0 716.5 L674.0 713.0 L681.5 711.8 L689.0 710.0 L696.0 709.5 L703.5 716.5 L711.0 721.3 L718.5 728.8 L725.3 734.0 L732.8 735.8 L740.3 734.0 L747.5 727.0 L755.0 722.5 L762.0 701.8 L769.3 692.5 L777.0 701.8 L783.8 713.0 L791.3 718.0 L798.8 722.5 L806.3 732.5 L813.3 732.3 L820.8 728.5 L828.0 725.3 L835.0 719.3 L842.6 719.8 L850.0 713.0 L857.0 708.5 L865.0 709.8 L872.0 712.5 L879.4 715.3 L886.9 715.5 L894.4 720.5 L901.4 723.0 L908.9 727.8 L916.4 732.3 L923.9 735.8 L931.4 740.6 L938.4 738.8 L945.2 735.0 L952.7 737.0 L960.2 735.5 L967.2 735.0 L974.4 731.8 L982.2 729.0 L989.4 728.3 L996.4 728.3 L1004.2 729.5 L1011.5 727.8 L1018.5 730.0 L1026.2 739.3 L1033.2 747.6 L1040.2 745.0 L1048.2 743.6 L1055.2 740.0 L1062.2 731.8 L1070.2 729.5 L1077.2 730.5 L1084.3 728.3 L1092.3 726.5 L1099.3 724.8 L1106.3 727.5 L1113.3 725.5 L1120.5 721.9 L1127.8 719.2 L1136.2 713.5 L1142.7 715.3 L1150.0 718.2 L1157.6 715.3 L1164.4 717.1 L1172.0 723.9 L1179.8 722.9 L1187.1 733.4 L1194.5 743.3 L1202.0 749.0 L1208.8 746.4 L1216.4 739.4 L1223.8 737.3 L1231.0 731.0 L1238.7 727.6 L1246.0 727.3 L1253.3 729.7 L1260.4 731.0 L1267.7 725.3 L1274.7 719.8 L1282.0 721.9 L1289.7 723.7 L1297.0 720.0 L1304.6 705.9 L1311.9 688.6 L1319.2 682.4 L1326.5 690.2 L1334.1 698.1 L1341.4 704.9 L1348.5 710.1 L1355.8 711.9 L1362.6 714.3" fill="none" stroke="#2962ff" stroke-width="1.15" stroke-linejoin="round"/>
<path d="M2.0 767.6 L12.5 770.0 L22.5 767.0 L29.3 762.6 L40.0 765.8 L50.0 767.6 L65.0 768.3 L80.0 767.6 L95.0 764.6 L107.6 760.6 L117.6 759.3 L125.0 757.3 L137.6 759.6 L145.0 759.0 L152.6 762.0 L160.0 763.6 L175.0 761.6 L184.0 764.6 L190.0 764.3 L197.0 760.8 L205.0 762.3 L219.0 763.6 L234.0 768.8 L249.0 773.0 L257.7 774.6 L263.0 774.6 L271.5 771.8 L285.0 770.6 L292.7 771.8 L300.0 774.0 L307.7 775.3 L315.0 773.6 L322.7 775.0 L329.0 774.6 L337.0 771.3 L344.0 772.6 L351.5 771.8 L359.0 772.8 L367.8 770.8 L373.8 770.0 L380.0 771.8 L395.0 778.0 L403.3 780.6 L410.0 779.3 L417.5 776.0 L425.5 775.3 L432.5 776.3 L438.8 777.8 L447.0 777.6 L454.3 780.3 L461.3 780.3 L468.8 781.3 L476.3 781.8 L483.3 783.8 L498.3 786.8 L512.6 789.0 L527.0 790.0 L534.6 787.8 L541.9 784.8 L549.4 783.8 L556.4 783.8 L563.9 785.0 L571.4 785.8 L585.9 787.8 L600.7 789.3 L607.7 784.8 L615.2 783.8 L630.2 786.8 L637.2 787.6 L645.2 787.3 L659.5 788.3 L667.0 786.8 L674.0 787.0 L681.5 788.6 L689.0 790.6 L696.0 793.0 L703.5 793.8 L711.0 793.8 L718.5 793.3 L732.8 793.0 L740.3 793.3 L747.0 789.0 L754.5 790.6 L762.0 784.6 L769.3 782.8 L777.0 778.8 L783.8 780.8 L798.8 782.0 L806.3 781.0 L820.8 783.6 L828.0 785.6 L835.0 784.3 L842.6 784.8 L850.0 784.6 L857.0 785.8 L865.0 785.6 L872.0 787.6 L879.4 788.8 L894.4 788.8 L901.4 791.3 L916.4 791.0 L922.9 792.6 L931.4 790.3 L938.4 789.8 L945.2 790.8 L960.2 791.3 L967.2 790.0 L974.4 791.8 L982.2 789.6 L989.4 789.6 L1000.2 791.0 L1011.5 791.3 L1018.5 790.3 L1026.2 786.0 L1033.2 781.8 L1040.2 780.8 L1048.2 778.3 L1055.2 776.3 L1062.2 776.8 L1070.2 778.8 L1077.2 779.8 L1092.3 781.8 L1106.3 780.8 L1120.5 782.5 L1127.8 783.3 L1142.7 783.6 L1150.0 785.4 L1157.6 787.5 L1164.4 787.8 L1179.8 790.4 L1187.1 789.1 L1194.5 790.1 L1202.0 789.3 L1208.8 788.3 L1216.4 790.6 L1223.8 790.4 L1231.0 791.4 L1246.0 793.5 L1253.3 793.0 L1260.4 793.0 L1267.7 789.6 L1274.7 790.4 L1282.0 786.4 L1289.7 788.0 L1297.0 787.2 L1304.6 782.0 L1311.9 776.0 L1319.2 764.7 L1326.5 761.9 L1334.1 761.6 L1341.4 756.9 L1348.5 759.0 L1355.8 761.1 L1362.6 762.1" fill="none" stroke="#c0262d" stroke-width="1.1" stroke-linejoin="round"/>
<g fill="none" stroke="#8e24aa" stroke-width="1.4" stroke-linecap="round" stroke-linejoin="round"><path d="M1366.5 656.3 A9.6 9.6 0 1 0 1372.9 663.2"/><path d="M1366.1 660.8 L1359.6 665.7 L1367.4 665.3 L1360.3 670.6"/></g>
<circle cx="1370.4" cy="658.5" r="2.6" fill="#f23645"/>
</svg>
<div class="topbar"></div><div class="leftbar"></div><div style="position:absolute;left:2px;top:4px;width:4px;height:4px;background:radial-gradient(circle at 100% 100%, rgba(224,227,235,0) 3.6px, #e0e3eb 4.2px);"></div>
<div class="pl" style="top:93.0px">0.86800</div>
<div class="pl" style="top:128.9px">0.86600</div>
<div class="pl" style="top:164.9px">0.86400</div>
<div class="pl" style="top:200.8px">0.86200</div>
<div class="pl" style="top:236.8px">0.86000</div>
<div class="pl" style="top:272.7px">0.85800</div>
<div class="pl" style="top:344.6px">0.85400</div>
<div class="pl" style="top:380.5px">0.85200</div>
<div class="pl" style="top:452.4px">0.84800</div>
<div class="pl" style="top:488.3px">0.84600</div>
<div class="pl" style="top:524.3px">0.84400</div>
<div class="pl" style="top:560.2px">0.84200</div>
<div class="pl" style="top:632.1px">0.83800</div>
<div class="pl" style="top:668.0px">0.83600</div>
<div class="pl" style="top:715px">0.00</div>
<div class="pl" style="top:750px">0.00400</div>
<div style="position:absolute;left:1441px;top:676.5px;width:62px;height:1.5px;background:#fff"></div>
<div style="position:absolute;left:1441px;top:678px;width:62px;height:1px;background:#e0e3eb"></div>
<div style="position:absolute;left:1441px;top:679px;width:62px;height:6px;background:#fff"></div>
<div style="position:absolute;left:1441px;top:748px;width:62px;height:6px;background:#fff"></div>
<div style="position:absolute;left:1441px;top:754px;width:62px;height:1px;background:#e0e3eb"></div>
<div class="bl" style="top:28.5px">0.87149</div>
<div class="bl" style="top:54.0px">0.87013</div>
<div class="bl" style="top:311.0px">0.85493</div>
<div class="bl" style="top:409.0px">0.85035</div>
<div class="bl" style="top:427.0px">0.84934</div>
<div class="bl" style="top:599.0px">0.83979</div>
<div class="bl" style="top:328px;width:60px;background:#d9553f;font-weight:normal;color:#fff;letter-spacing:-0.1px;">09:23:59</div>
<div style="position:absolute;left:1441px;top:4px;width:62px;height:33.7px;background:#fff;"></div>
<div style="position:absolute;left:1444px;top:8px;width:58px;height:26px;box-sizing:border-box;border:1px solid #e0e3eb;border-radius:4px;background:#fff;"></div>
<div class="t" style="left:1448.2px;top:15.2px;font-size:12px;color:#131722;letter-spacing:-0.9px;">GBP</div>
<svg class="cv" style="left:1489.6px;top:17.6px" width="10" height="8" viewBox="0 0 10 8"><path d="M2.5 2.4 L5 4.9 L7.5 2.4" fill="none" stroke="#131722" stroke-width="1.3"/></svg>
<div class="tl" style="left:29.7px;">Dec</div>
<div class="tl" style="left:183.7px;font-weight:bold;">2024</div>
<div class="tl" style="left:264.3px;">16</div>
<div class="tl" style="left:352.3px;">Feb</div>
<div class="tl" style="left:506.3px;">Mar</div>
<div class="tl" style="left:660.2px;">Apr</div>
<div class="tl" style="left:740.9px;">16</div>
<div class="tl" style="left:821.5px;">May</div>
<div class="tl" style="left:902.2px;">16</div>
<div class="tl" style="left:990.2px;">Jun</div>
<div class="tl" style="left:1136.8px;">Jul</div>
<div class="tl" style="left:1217.4px;">16</div>
<div class="tl" style="left:1305.4px;">Aug</div>
<div class="tl" style="left:1393.4px;">19</div>
<div class="lg" style="left:8px;top:8px;width:640px;height:25px;"></div>
<svg class="cv" style="left:8px;top:8px" width="24" height="24" viewBox="8 8 24 24">
<circle cx="23.3" cy="16.1" r="5.8" fill="#1f3d8f"/>
<path d="M19 12 L27.6 20.2 M27.6 12 L19 20.2" stroke="#fff" stroke-width="2.2" clip-path="url(#uk)"/>
<path d="M19 12 L27.6 20.2 M27.6 12 L19 20.2" stroke="#e03a4d" stroke-width="0.9" clip-path="url(#uk)"/>
<path d="M23.3 10 V22.2 M17.3 16.1 H29.3" stroke="#fff" stroke-width="3" clip-path="url(#uk)"/>
<path d="M23.3 10 V22.2 M17.3 16.1 H29.3" stroke="#e03a4d" stroke-width="1.6" clip-path="url(#uk)"/>
<defs><clipPath id="uk"><circle cx="23.3" cy="16.1" r="5.8"/></clipPath></defs>
<circle cx="17" cy="22.7" r="6.6" fill="#fff"/>
<circle cx="17" cy="22.7" r="6" fill="#1e4bb8"/>
<g fill="#ffd43b"><circle cx="17" cy="18.9" r="0.7"/><circle cx="19.7" cy="20" r="0.7"/><circle cx="20.8" cy="22.7" r="0.7"/><circle cx="19.7" cy="25.4" r="0.7"/><circle cx="17" cy="26.5" r="0.7"/><circle cx="14.3" cy="25.4" r="0.7"/><circle cx="13.2" cy="22.7" r="0.7"/><circle cx="14.3" cy="20" r="0.7"/></g>
</svg>
<div class="t" id="title" style="left:33px;top:13.4px;font-size:14.5px;color:#555;letter-spacing:0.35px;">Euro / British Pound · 1D · ICE</div>
<div style="position:absolute;left:257.3px;top:11.3px;width:17px;height:17px;border-radius:50%;background:#d3efe8;"></div>
<div style="position:absolute;left:261.5px;top:15.5px;width:8.6px;height:8.6px;border-radius:50%;background:#0d9a7c;"></div>
<div class="t" id="ohlc" style="left:292px;top:14.2px;font-size:12.5px;color:#555;letter-spacing:-0.2px;word-spacing:4px;">O<span style="color:#7a2f2f">0.85617</span> H<span style="color:#7a2f2f">0.85650</span> L<span style="color:#7a2f2f">0.85312</span> C<span style="color:#7a2f2f">0.85486</span> <span style="color:#7a2f2f">−0.00129 (−0.15%)</span></div>
<div class="lg" style="left:6px;top:34px;width:161px;height:29px;"></div>
<div class="box" style="left:10px;border-color:#f23645;color:#f23645;">0.8548<sup>7</sup></div>
<div class="t" style="left:79px;top:42px;font-size:12px;color:#333;letter-spacing:-0.3px;">0.8</div>
<div class="box" style="left:102px;border-color:#2962ff;color:#2962ff;">0.8549<sup>5</sup></div>
<div class="lg" style="left:6px;top:65px;height:24px;padding:0 4px 0 4.7px;font-size:13px;line-height:24px;color:#555;"><span style="display:inline-block;width:82.7px;letter-spacing:-0.46px;">SMA 20 close</span><span style="letter-spacing:-0.23px;color:#f23645">0.84804</span></div>
<div class="lg" style="left:6px;top:89px;height:24px;padding:0 4px 0 4.7px;font-size:13px;line-height:24px;color:#555;"><span style="display:inline-block;width:82.7px;letter-spacing:-0.46px;">SMA 50 close</span><span style="letter-spacing:-0.23px;color:#3d3dff">0.84626</span></div>
<div class="lg" style="left:6px;top:113px;height:24px;padding:0 4px 0 4.7px;font-size:13px;line-height:24px;color:#555;"><span style="display:inline-block;width:89.9px;letter-spacing:-0.46px;">SMA 200 close</span><span style="letter-spacing:-0.23px;color:#222">0.85533</span></div>
<div style="position:absolute;left:11.5px;top:138.5px;width:28px;height:20px;box-sizing:border-box;border:1px solid #d1d4dc;border-radius:4px;background:rgba(255,255,255,0.7);"></div>
<svg class="cv" style="left:19px;top:143px" width="12" height="10" viewBox="0 0 12 10"><path d="M2 7.2 L6 3.2 L10 7.2" fill="none" stroke="#2a2e39" stroke-width="1.4"/></svg>
<div class="lg" style="left:8px;top:685px;height:21px;background:rgba(255,255,255,0.8);padding:0 4px 0 3.3px;font-size:13px;line-height:21px;color:#555;"><span style="display:inline-block;width:110px;letter-spacing:-0.5px;">CCI 20 hlc3 SMA 5</span><span style="letter-spacing:-0.25px;color:#2962ff">66.62</span></div>
<div class="lg" style="left:8px;top:761px;height:21px;width:128px;background:rgba(255,255,255,0.8);"></div>
<svg class="cv" style="left:0;top:0" width="60" height="823" viewBox="0 0 60 823"><g transform="translate(14.4,764.5) scale(0.82)" fill="#83868f"><path d="M14 22H7V11H0V4h14v18z"/><circle cx="20" cy="8" r="4"/><path d="M28 22h-8l7.5-18h8L28 22z"/></g></svg>
<div class="t" style="left:11.1px;top:761px;height:21px;font-size:13px;line-height:21px;color:#555;"><span style="display:inline-block;width:75.6px;letter-spacing:-0.82px;">ATR 14 RMA</span><span style="letter-spacing:-0.23px;color:#b71c2a">0.00376</span></div>
<svg class="cv" width="1503" height="823" viewBox="0 0 1503 823" shape-rendering="crispEdges">
<rect x="1440" y="4" width="1" height="819" fill="#4a4a4a"/>
<rect x="2" y="797" width="1501" height="1" fill="#4a4a4a"/>
<g shape-rendering="geometricPrecision" fill="none" stroke="#1e1e1e" stroke-width="1.1"><path d="M1466.2 811.4 L1469.9 805 L1477.4 805 L1481 811.4 L1477.4 817.8 L1469.9 817.8 Z"/><circle cx="1473.6" cy="811.4" r="2.4"/></g>
</svg>
</body></html>
